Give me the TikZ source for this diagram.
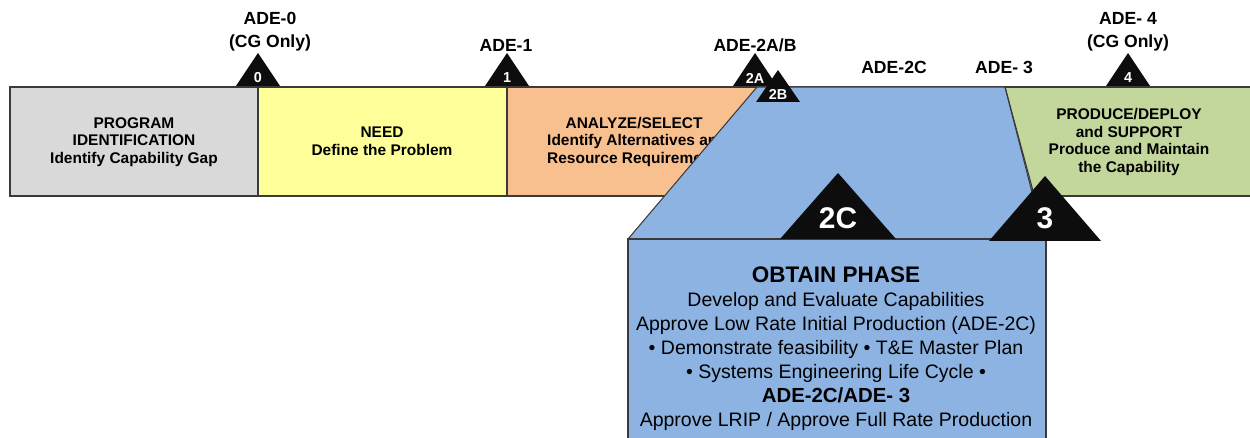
\documentclass[tikz,border=0pt]{standalone}
\usepackage{fontspec}
\setmainfont{Liberation Sans}
\definecolor{bandgray}{HTML}{D9D9D9}
\definecolor{bandyellow}{HTML}{FFFF99}
\definecolor{bandorange}{HTML}{F9C08F}
\definecolor{obtainblue}{HTML}{8DB3E2}
\definecolor{bandgreen}{HTML}{C3D69B}
\definecolor{edge}{HTML}{3A3A3A}
\tikzset{
  outline/.style={draw=edge, line width=0.6pt},
  bandtext/.style={align=center, font=\bfseries\fontsize{8.8}{10}\selectfont},
  adetext/.style={align=center, font=\bfseries\fontsize{10}{13}\selectfont},
  smallnum/.style={text=white, font=\bfseries\fontsize{8.2}{8}\selectfont, inner sep=0pt},
  bignum/.style={text=white, font=\bfseries\fontsize{17}{17}\selectfont, inner sep=0pt},
}
\begin{document}
\begin{tikzpicture}[x=0.02cm, y=-0.02cm]
	\useasboundingbox (0,0) rectangle (1250,438);
	% phase bands
	\fill[bandgray] (10,87) rectangle (258,196);
	\fill[bandyellow] (258,87) rectangle (507,196);
	\fill[bandorange] (507,87) -- (757,87) -- (664,196) -- (507,196) -- cycle;
	\fill[bandgreen] (1005,87) -- (1250,87) -- (1250,196) -- (1033,196) -- cycle;
	\draw[outline] (1250,87) -- (10,87) -- (10,196) -- (664,196);
	\draw[outline] (258,87) -- (258,196);
	\draw[outline] (507,87) -- (507,196);
	\draw[outline] (1033,196) -- (1250,196);
	\node[bandtext] (progid) at (134,142) {PROGRAM\\IDENTIFICATION\\Identify Capability Gap};
	\node[bandtext] (need) at (382,141) {NEED\\Define the Problem};
	\node[bandtext, align=left, anchor=west] (analyze) at (541,142)
		{\hspace*{10.5pt}ANALYZE/SELECT\\Identify Alternatives and\\Resource Requirements};
	\node[bandtext] (produce) at (1129,142) {PRODUCE/DEPLOY\\and SUPPORT\\Produce and Maintain\\the Capability};
	% obtain phase
	\fill[obtainblue] (628,239) -- (757,87) -- (1005,87) -- (1046,239) -- cycle;
	\draw[outline] (628,239) -- (757,87) -- (1005,87) -- (1046,239);
	\draw[outline, fill=obtainblue] (628,445) -- (628,239) -- (1046,239) -- (1046,445);
	\draw[outline] (1005,87) -- (1033,196);
	\node[align=center, anchor=north, font=\fontsize{11.1}{13.6}\selectfont] (obtain) at (836,261)
		{{\bfseries\fontsize{12.8}{13.6}\selectfont OBTAIN PHASE}\\
		Develop and Evaluate Capabilities\\
		Approve Low Rate Initial Production (ADE-2C)\\
		• Demonstrate feasibility • T\&E Master Plan\\
		• Systems Engineering Life Cycle •\\
		{\bfseries\fontsize{11.6}{13.6}\selectfont ADE-2C/ADE- 3}\\
		Approve LRIP / Approve Full Rate Production};
	% milestones
	\foreach \x/\n in {258/0, 507/1, 755/2A, 1128/4}{
		\fill[black!95] (\x,53) -- (\x-22,86) -- (\x+22,86) -- cycle;
		\node[smallnum] (ms\n) at (\x,78) {\n};
	}
	\fill[black!95] (778,70) -- (756,102) -- (800,102) -- cycle;
	\node[smallnum] (ms2B) at (778,94) {2B};
	\fill[black!95] (838,173) -- (780,239) -- (896,239) -- cycle;
	\node[bignum] (ms2C) at (838,218) {2C};
	\fill[black!95] (1045,176) -- (989,241) -- (1101,241) -- cycle;
	\node[bignum] (ms3) at (1045,218) {3};
	% decision labels
	\node[adetext] (ade0) at (270,32) {ADE-0\\(CG Only)};
	\node[adetext] (ade1) at (506,45) {ADE-1};
	\node[adetext] (ade2ab) at (755,45) {ADE-2A/B};
	\node[adetext] (ade2c) at (894,67) {ADE-2C};
	\node[adetext] (ade3) at (1004,67) {ADE- 3};
	\node[adetext] (ade4) at (1128,32) {ADE- 4\\(CG Only)};
\end{tikzpicture}
\end{document}
